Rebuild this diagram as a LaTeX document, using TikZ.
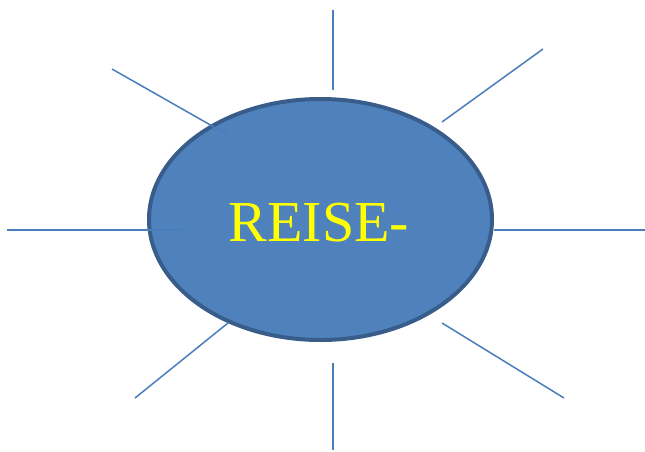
\documentclass[tikz,border=0pt]{standalone}
\usepackage{fontspec}
\setmainfont{Liberation Serif}
\usetikzlibrary{shapes.geometric}
\definecolor{fillblue}{HTML}{4F81BD}
\definecolor{edgeblue}{HTML}{385D8A}
\definecolor{rayblue}{HTML}{4A7EBB}
\definecolor{txtyellow}{HTML}{FFFF00}
\tikzset{
  ray/.style={draw=rayblue, line width=1.5pt},
  hub/.style={draw=edgeblue, fill=fillblue, line width=4pt}
}
\begin{document}
\begin{tikzpicture}[x=1pt,y=1pt]
\useasboundingbox (0,0) rectangle (645,451);
% ellipse centre (320.5,219.5) -> y = 451-219.5 = 231.5
\draw[hub] (320.5,231.5) ellipse [x radius=171.5, y radius=120.5];
\node[text=txtyellow, font=\fontsize{58}{60}\selectfont, anchor=base] (lbl) at (319,210) {REISE-};
% ray endpoints
\coordinate (t1) at (333,441); \coordinate (t2) at (333,361);
\coordinate (tr1) at (543,402); \coordinate (tr2) at (442,329);
\coordinate (r1) at (645,221); \coordinate (r2) at (494,221);
\coordinate (br1) at (564,53); \coordinate (br2) at (442,128);
\coordinate (b1) at (333,1); \coordinate (b2) at (333,88);
\coordinate (bl1) at (135,53); \coordinate (bl2) at (228,128);
\coordinate (l1) at (7,221); \coordinate (l2) at (182,221);
\coordinate (tl1) at (112,382); \coordinate (tl2) at (228,316);
\draw[ray] (t1) -- (t2);
\draw[ray] (tr1) -- (tr2);
\draw[ray] (r1) -- (r2);
\draw[ray] (br1) -- (br2);
\draw[ray] (b1) -- (b2);
\draw[ray] (bl1) -- (bl2);
\draw[ray] (l1) -- (l2);
\draw[ray] (tl1) -- (tl2);
\end{tikzpicture}
\end{document}
